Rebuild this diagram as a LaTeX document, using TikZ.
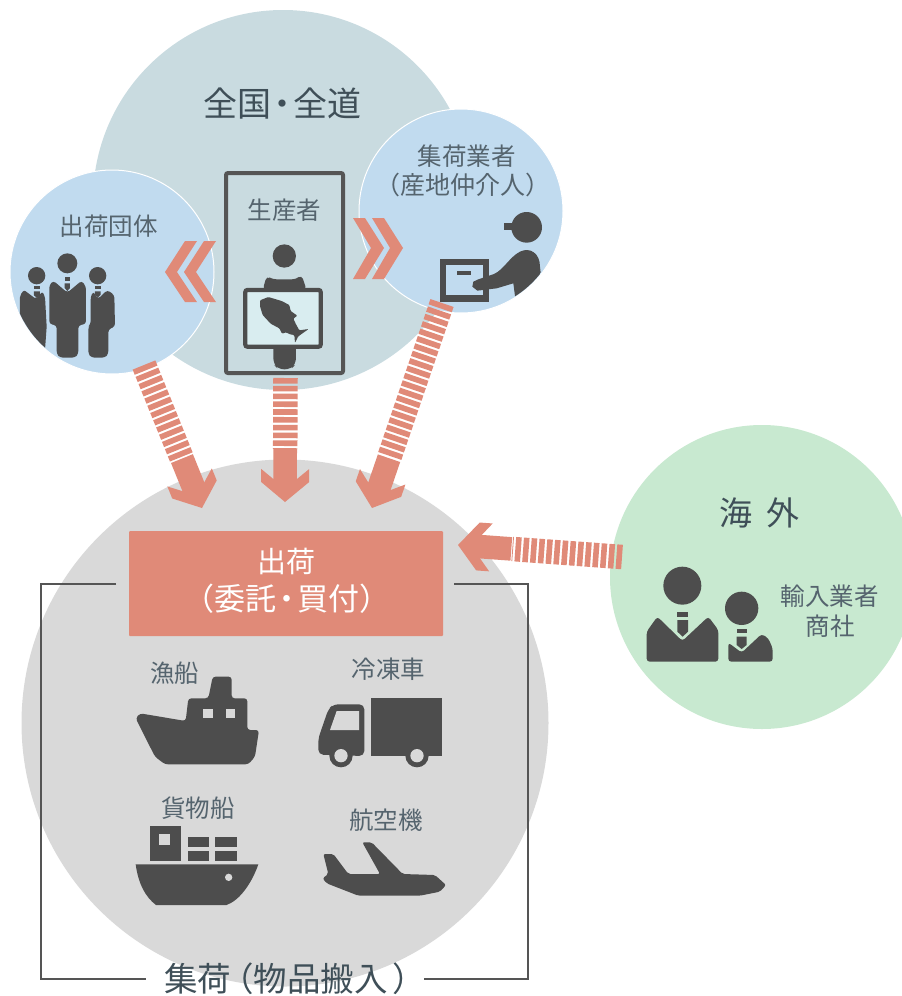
\documentclass[tikz,border=0pt]{standalone}
\usepackage{fontspec}
\usetikzlibrary{calc,arrows.meta}
\setmainfont{Noto Sans CJK JP}
\definecolor{bigblue}{HTML}{C9DBE0}
\definecolor{lightblue}{HTML}{C1DBEF}
\definecolor{salmon}{HTML}{E08A78}
\definecolor{mint}{HTML}{C8E9D0}
\definecolor{lgray}{HTML}{D9D9D9}
\definecolor{icon}{HTML}{4D4D4D}
\definecolor{framec}{HTML}{555555}
\definecolor{txt}{HTML}{55646E}
\definecolor{txtd}{HTML}{3F4F58}
\definecolor{screen}{HTML}{D9EDF0}
\newcommand{\fsz}[1]{\fontsize{#1}{#1}\selectfont}
\pgfdeclarearrow{
  name=BarbHead,
  setup code={
    \pgfarrowssettipend{0pt}
    \pgfarrowssetlineend{-20pt}
    \pgfarrowssetvisualbackend{-33pt}
    \pgfarrowssetbackend{-33pt}
    \pgfarrowshullpoint{0pt}{0pt}
    \pgfarrowshullpoint{-33pt}{24pt}
    \pgfarrowshullpoint{-33pt}{-24pt}
  },
  drawing code={
    \pgfsetfillcolor{salmon}
    \pgfpathmoveto{\pgfqpoint{0pt}{0pt}}
    \pgfpathlineto{\pgfqpoint{-20pt}{24pt}}
    \pgfpathlineto{\pgfqpoint{-33pt}{24pt}}
    \pgfpathlineto{\pgfqpoint{-23pt}{11.8pt}}
    \pgfpathlineto{\pgfqpoint{-23pt}{-11.8pt}}
    \pgfpathlineto{\pgfqpoint{-33pt}{-24pt}}
    \pgfpathlineto{\pgfqpoint{-20pt}{-24pt}}
    \pgfpathclose
    \pgfusepathqfill
  }
}
\tikzset{
  disc/.style={circle,inner sep=0pt,minimum size=#1,outer sep=0pt},
  stripes/.style={draw=salmon,line width=24.5pt,dash pattern=on 5.6pt off 2.2pt},
  shaft/.style={draw=salmon,line width=23.6pt,-{BarbHead}},
  lbl/.style={text=txt,inner sep=0pt,align=center,font=\fsz{24.5}},
  ico/.style={fill=icon,draw=none},
  chev/.style={fill=salmon,draw=none},
  zoomed/.style={x=0.33333pt,y=-0.33333pt},
}
\begin{document}
\begin{tikzpicture}[x=1pt,y=-1pt]
\useasboundingbox (0,0) rectangle (902,996);
\clip (0,0) rectangle (902,996);
% circles
\node[disc=380pt,fill=bigblue] (nation) at (283,200) {};
\node[disc=204pt,fill=lightblue,draw=white,line width=1pt] (group) at (112,272) {};
\node[disc=204pt,fill=lightblue,draw=white,line width=1pt] (broker) at (461,211) {};
\node[disc=527pt,fill=lgray] (collect) at (285,723) {};
\node[disc=304pt,fill=mint] (abroad) at (762,577) {};
% producer frame
\draw[draw=framec,line width=4pt,rounded corners=2pt] (226,173) rectangle (343,373);
% shipping box
\node[fill=salmon,minimum width=314pt,minimum height=105pt,inner sep=0pt,rounded corners=1pt] (ship) at (286,583.5) {};
% bracket
\coordinate (bl) at (116,584); \coordinate (br) at (454,584);
\coordinate (bbl) at (146,979); \coordinate (bbr) at (424,979);
\draw[draw=framec,line width=2pt] (bl) -- (41,584) -- (41,979) -- (bbl);
\draw[draw=framec,line width=2pt] (br) -- (528,584) -- (528,979) -- (bbr);
% arrows
\coordinate (la) at (144,365); \coordinate (lt) at (202,508);
\coordinate (ca) at (285.5,378); \coordinate (ct) at (285,502);
\coordinate (ra) at (442,303); \coordinate (rt) at (372,508);
\coordinate (oa) at (622,557); \coordinate (ot) at (458,545);
\coordinate (ls) at ($(la)!100pt!(lt)$); \coordinate (ls2) at ($(la)!101pt!(lt)$);
\coordinate (cs) at ($(ca)!71pt!(ct)$); \coordinate (cs2) at ($(ca)!71pt!(ct)$);
\coordinate (rs) at ($(ra)!163pt!(rt)$); \coordinate (rs2) at ($(ra)!164pt!(rt)$);
\coordinate (os) at ($(oa)!110pt!(ot)$); \coordinate (os2) at ($(oa)!111pt!(ot)$);
\draw[stripes] (la) -- (ls); \draw[shaft] (ls2) -- (lt);
\draw[stripes] (ca) -- (cs); \draw[shaft] (cs2) -- (ct);
\draw[stripes] (ra) -- (rs); \draw[shaft] (rs2) -- (rt);
\draw[stripes] (oa) -- (os); \draw[shaft] (os2) -- (ot);
% chevrons
\fill[chev] (185,241)--(197,241)--(177,272)--(197,302)--(185,302)--(165,272)--cycle;
\fill[chev] (204,241)--(216,241)--(196,272)--(216,302)--(204,302)--(184,272)--cycle;
\fill[chev] (353,218)--(365,218)--(384,248)--(365,279)--(353,279)--(371,248)--cycle;
\fill[chev] (372,218)--(384,218)--(403,248)--(384,279)--(372,279)--(390,248)--cycle;
% three people + producer (zoom 1 frame)
\begin{scope}
\clip (112,272) circle[radius=101];
\begin{scope}[shift={(0,150)},zoomed]
\fill[ico] (110,377) circle[radius=26];
\fill[ico,rounded corners=2pt] (60,436)--(72,420)--(108,447)--(127,425)--(135,440)--(140,530)--(135,600)--(60,600)--cycle;
\fill[ico] (102,408) rectangle (120,418);
\fill[ico] (102,424) -- (120,424) -- (120,436) -- (111,444) -- (102,436) -- cycle;
\end{scope}
\end{scope}
\begin{scope}[shift={(0,150)},zoomed]
% centre man
\fill[ico] (202,340) circle[radius=30];
\fill[ico,rounded corners=3pt] (148,405)--(160,392)--(202,428)--(245,392)--(258,410)--(258,522)--(235,526)--(235,612)--(225,623)--(180,623)--(170,612)--(170,526)--(148,522)--cycle;
\fill[ico] (194,382) rectangle (210,394);
\fill[ico] (194,400)--(210,400)--(210,414)--(202,423)--(194,414)--cycle;
% right man
\fill[ico] (293,377) circle[radius=26];
\fill[ico,rounded corners=3pt] (272,440)--(280,424)--(294,447)--(322,420)--(343,435)--(345,530)--(325,538)--(325,612)--(315,623)--(275,623)--(265,612)--(265,530)--(272,522)--cycle;
\fill[ico] (285,408) rectangle (302,418);
\fill[ico] (285,424)--(302,424)--(302,434)--(294,442)--(285,434)--cycle;
% producer
\fill[ico] (853,318) circle[radius=35];
\fill[ico,rounded corners=4pt] (788,420)--(800,378)--(818,388)--(888,388)--(905,375)--(920,420)--cycle;
\fill[ico,rounded corners=6pt] (820,580)--(820,642)--(835,658)--(872,658)--(888,642)--(888,580)--cycle;
\draw[draw=icon,fill=screen,line width=4.2pt,rounded corners=2pt] (736,420) rectangle (962,590);
\end{scope}
% tuna
\begin{scope}[shift={(240,285)},zoomed]
\fill[ico,rounded corners=1pt] (60,46)--(85,36)--(125,48)--(148,60)--(152,78)--(172,92)--(160,101)--(168,118)--(178,136)--(206,132)--(186,146)--(174,155)--(165,174)--(163,150)--(150,148)--(138,142)--(126,146)--(118,130)--(92,116)--(68,90)--(60,64)--cycle;
\end{scope}
% courier (zoom 2 frame)
\begin{scope}
\clip (461,211) circle[radius=101];
\begin{scope}[shift={(340,110)},zoomed]
\fill[ico] (560,352) circle[radius=46];
\fill[ico] (492,338) rectangle (525,360);
\fill[ico] (300,447) rectangle (447,575);
\fill[lightblue] (318,465) rectangle (430,555);
\fill[ico] (352,483) rectangle (392,495);
\fill[ico] (600,470) .. controls (600,430) and (570,410) .. (540,425) .. controls (510,440) and (490,480) .. (462,492) -- (415,508) -- (400,515) -- (397,530) -- (412,542) -- (470,535) -- (520,520) -- (525,558) -- (610,560) -- cycle;
\end{scope}
\end{scope}
% vehicles (zoom 3 frame)
\begin{scope}[shift={(120,650)},zoomed]
% fishing boat
\fill[ico,rounded corners=3pt] (47,205)--(60,190)--(197,213)--(205,145)--(265,145)--(278,80)--(335,80)--(335,145)--(382,145)--(382,240)--(417,240)--(405,320)--(385,343)--(135,343)--(105,320)--cycle;
\fill[lgray] (250,178) rectangle (278,205);
\fill[lgray] (318,178) rectangle (345,205);
% truck
\fill[ico] (752,143) rectangle (965,318);
\fill[ico,rounded corners=5pt] (595,314)--(595,265)--(625,178)--(640,163)--(733,163)--(733,318)--cycle;
\fill[lgray] (630,240)--(650,183)--(717,183)--(717,240)--cycle;
\fill[ico] (663,317) circle[radius=35];
\fill[lgray] (663,317) circle[radius=20];
\fill[ico] (891,317) circle[radius=35];
\fill[lgray] (891,317) circle[radius=20];
% cargo ship
\fill[ico] (47,643) -- (415,643) .. controls (395,700) and (360,750) .. (320,765) -- (108,765) .. controls (75,740) and (55,700) .. (47,643) -- cycle;
\fill[lgray] (326,682) circle[radius=11];
\fill[ico] (90,528) rectangle (182,632);
\fill[lgray] (118,553) rectangle (150,585);
\fill[ico] (203,562) rectangle (268,590);
\fill[ico] (285,562) rectangle (350,590);
\fill[ico] (203,604) rectangle (268,632);
\fill[ico] (285,604) rectangle (350,632);
% plane
\fill[ico,rounded corners=2pt] (610,612)--(640,612)--(685,672)--(780,672)--(727,577)--(755,577)--(848,672)--(945,675)--(978,705)--(960,725)--(900,737)--(715,737)--(620,700)--(608,685)--(625,672)--cycle;
\end{scope}
% importers (zoom 4 frame)
\begin{scope}[shift={(450,480)},zoomed]
\fill[ico] (697,317) circle[radius=57];
\fill[ico,rounded corners=3pt] (590,545)--(590,455)--(622,410)--(697,483)--(775,410)--(805,450)--(805,545)--cycle;
\fill[ico] (682,395) rectangle (714,412);
\fill[ico] (682,420)--(714,420)--(714,455)--(698,470)--(682,455)--cycle;
\fill[ico] (875,385) circle[radius=50];
\fill[ico,rounded corners=3pt] (835,545)--(835,488)--(875,518)--(935,462)--(955,475)--(968,505)--(968,545)--cycle;
\fill[ico] (860,448) rectangle (890,460);
\fill[ico] (860,470)--(890,470)--(890,495)--(875,507)--(860,495)--cycle;
\end{scope}
% labels
\node[lbl,font=\fsz{34},text=txtd,anchor=west] (t1) at (203,104) {全国\hspace{-6pt}・\hspace{-6pt}全道};
\node[lbl] (t2) at (108.5,226) {出荷団体};
\node[lbl] (t3) at (284.5,210) {生産者};
\node[lbl] (t4) at (466.5,156) {集荷業者};
\node[lbl,font=\fsz{25}] (t5) at (463,185) {（産地仲介人）};
\node[lbl,text=white,font=\fsz{29}] (t6) at (286,561) {出荷};
\node[lbl,text=white,font=\fsz{31},anchor=west] (t7) at (183,599) {（委託\hspace{-5pt}・\hspace{-5pt}買付）};
\node[lbl] (t8) at (174.5,673) {漁船};
\node[lbl] (t9) at (388.5,669) {冷凍車};
\node[lbl] (t10) at (198,808) {貨物船};
\node[lbl] (t11) at (386,820) {航空機};
\node[lbl,font=\fsz{33},text=txtd] (t12) at (759,513) {海\hspace{14pt}外};
\node[lbl] (t13) at (829.5,596) {輸入業者};
\node[lbl] (t14) at (830,626) {商社};
\node[lbl,font=\fsz{33.5},text=txtd,anchor=west] (t15) at (164,979) {集荷\hspace{-11pt}（物品搬入\hspace{5pt}）};
\end{tikzpicture}
\end{document}
